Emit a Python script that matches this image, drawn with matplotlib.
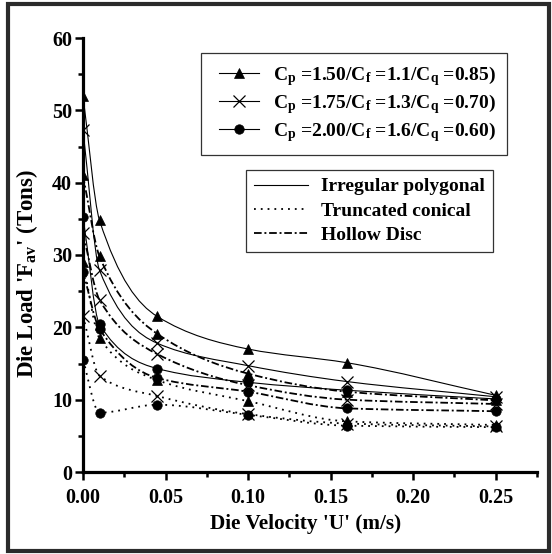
import matplotlib
matplotlib.use("Agg")
import matplotlib.pyplot as plt
from matplotlib.path import Path
from matplotlib.patches import PathPatch, Rectangle
from matplotlib.lines import Line2D
from matplotlib.legend_handler import HandlerLine2D
from matplotlib.ticker import MultipleLocator, FormatStrFormatter

plt.rcParams['font.family'] = ['Liberation Serif', 'DejaVu Serif']
plt.rcParams['font.weight'] = 'bold'
plt.rcParams['mathtext.fontset'] = 'custom'
plt.rcParams['mathtext.rm'] = 'Liberation Serif:bold'
plt.rcParams['mathtext.it'] = 'Liberation Serif:bold'
plt.rcParams['mathtext.bf'] = 'Liberation Serif:bold'
plt.rcParams['lines.scale_dashes'] = False

# die velocity U (m/s)
velocity = [0.0, 0.01, 0.045, 0.10, 0.16, 0.25]

# average die load (tons) -- irregular polygonal die
poly_a = [52.0, 34.8, 21.5, 17.0, 15.1, 10.6]
poly_b = [47.3, 27.9, 17.8, 14.7, 12.5, 10.4]
poly_c = [35.3, 20.4, 14.3, 12.4, 11.3, 10.1]
# hollow disc die
disc_a = [41.0, 29.8, 19.1, 13.6, 11.1, 9.9]
disc_b = [33.0, 23.8, 16.3, 12.0, 10.0, 9.4]
disc_c = [27.7, 19.8, 13.0, 11.1, 8.8, 8.4]
# truncated conical die
cone_a = [29.0, 18.5, 12.7, 9.8, 7.0, 6.5]
cone_b = [21.6, 13.3, 10.5, 8.0, 6.7, 6.3]
cone_c = [15.5, 8.2, 9.3, 7.9, 6.4, 6.2]

param_labels = [
    r"C$_{\mathbf{p}}$ =1.50/C$_{\mathbf{f}}$ =1.1/C$_{\mathbf{q}}$ =0.85)",
    r"C$_{\mathbf{p}}$ =1.75/C$_{\mathbf{f}}$ =1.3/C$_{\mathbf{q}}$ =0.70)",
    r"C$_{\mathbf{p}}$ =2.00/C$_{\mathbf{f}}$ =1.6/C$_{\mathbf{q}}$ =0.60)",
]
shape_labels = ["Irregular polygonal", "Truncated conical", "Hollow Disc"]

x_ticks = [0.00, 0.05, 0.10, 0.15, 0.20, 0.25]
y_ticks = [0, 10, 20, 30, 40, 50, 60]

SOLID = '-'
DOTTED = (0, (1.3, 3.6))
DASHDOT = (0, (5.5, 2.0, 1.4, 2.0))
MARKERS = ['^', 'x', 'o']
MSIZE = {'^': 7.5, 'x': 8, 'o': 6.8}


def pchip_slopes(x, y):
    n = len(x)
    h = [x[i + 1] - x[i] for i in range(n - 1)]
    d = [(y[i + 1] - y[i]) / h[i] for i in range(n - 1)]
    m = [0.0] * n
    for i in range(1, n - 1):
        if d[i - 1] * d[i] <= 0:
            m[i] = 0.0
        else:
            w1 = 2 * h[i] + h[i - 1]
            w2 = h[i] + 2 * h[i - 1]
            m[i] = (w1 + w2) / (w1 / d[i - 1] + w2 / d[i])
    m[0] = d[0]
    m[-1] = d[-1]
    return m


def smooth_path(x, y):
    m = pchip_slopes(x, y)
    verts = [(x[0], y[0])]
    codes = [Path.MOVETO]
    for i in range(len(x) - 1):
        h = x[i + 1] - x[i]
        verts += [(x[i] + h / 3, y[i] + m[i] * h / 3),
                  (x[i + 1] - h / 3, y[i + 1] - m[i + 1] * h / 3),
                  (x[i + 1], y[i + 1])]
        codes += [Path.CURVE4] * 3
    return Path(verts, codes)


fig = plt.figure(figsize=(5.52, 5.54), dpi=100)
ax = fig.add_axes([83 / 552, 1 - 472 / 554, (537 - 83) / 552, (472 - 38) / 554])

groups = [
    (SOLID, 0.8, [poly_a, poly_b, poly_c]),
    (DOTTED, 1.3, [cone_a, cone_b, cone_c]),
    (DASHDOT, 1.3, [disc_a, disc_b, disc_c]),
]
for ls, lw, series in groups:
    for mk, vals in zip(MARKERS, series):
        ax.add_patch(PathPatch(smooth_path(velocity, vals), fill=False,
                               edgecolor='black', linewidth=lw, linestyle=ls,
                               capstyle='butt'))
        ax.plot(velocity, vals, linestyle='none', marker=mk, ms=MSIZE[mk],
                color='black', mew=0.9 if mk == 'x' else 0.5, zorder=1.9)

ax.set_xlim(0, 0.275)
ax.set_ylim(0, 60)
ax.set_xticks(x_ticks)
ax.set_yticks(y_ticks)
ax.xaxis.set_major_formatter(FormatStrFormatter('%.2f'))
ax.xaxis.set_minor_locator(MultipleLocator(0.025))
ax.yaxis.set_minor_locator(MultipleLocator(5))
for s in ['top', 'right']:
    ax.spines[s].set_visible(False)
for s in ['left', 'bottom']:
    ax.spines[s].set_linewidth(2.3)
ax.tick_params(which='major', direction='out', length=6, width=1.8,
               labelsize=14.5, pad=2)
ax.tick_params(which='minor', direction='out', length=3.5, width=1.8)
ax.tick_params(axis='x', which='major', pad=5.5)
for lab in ax.get_xticklabels() + ax.get_yticklabels():
    lab.set_fontweight('bold')

ax.set_xlabel("Die Velocity 'U' (m/s)", fontsize=15.3, fontweight='bold',
              va='center', ha='center')
ax.xaxis.set_label_coords((306 - 83) / 454, (472 - 524) / 434)
ax.set_ylabel(r"Die Load 'F$_{\mathbf{av}}$' (Tons)", fontsize=16.5,
              fontweight='bold', va='center', ha='center',
              rotation_mode='default')
ax.yaxis.set_label_coords((27 - 83) / 454, (472 - 274) / 434)

h1 = [Line2D([0], [0], color='black', lw=0.8, marker=mk, ms=MSIZE[mk],
             mew=0.9 if mk == 'x' else 0.5) for mk in MARKERS]
leg1 = ax.legend(h1, param_labels, loc='upper left',
                 bbox_to_anchor=(201 / 552, 1 - 53 / 554),
                 bbox_transform=fig.transFigure, borderaxespad=0,
                 fontsize=14, frameon=True, fancybox=False, framealpha=1,
                 edgecolor='#333333', handlelength=2.45, handletextpad=0.7,
                 labelspacing=0.22, borderpad=0.55,
                 handler_map={Line2D: HandlerLine2D(xpad=0.38)})
leg1.get_frame().set_linewidth(0.9)
ax.add_artist(leg1)

h2 = [Line2D([0], [0], color='black', lw=0.8, ls=SOLID),
      Line2D([0], [0], color='black', lw=1.3, ls=DOTTED),
      Line2D([0], [0], color='black', lw=1.3, ls=DASHDOT)]
leg2 = ax.legend(h2, shape_labels, loc='upper left',
                 bbox_to_anchor=(246 / 552, 1 - 170 / 554),
                 bbox_transform=fig.transFigure, borderaxespad=0,
                 fontsize=14, frameon=True, fancybox=False, framealpha=1,
                 edgecolor='#333333', handlelength=2.8, handletextpad=0.65,
                 labelspacing=0.35, borderpad=0.4)
leg2.get_frame().set_linewidth(0.9)

fig.patches.append(Rectangle((8 / 552, 3 / 554), 541 / 552, 547 / 554,
                             transform=fig.transFigure, fill=False,
                             edgecolor='#2b2b2b', linewidth=3.0))

fig.savefig('out.png', dpi=100)
